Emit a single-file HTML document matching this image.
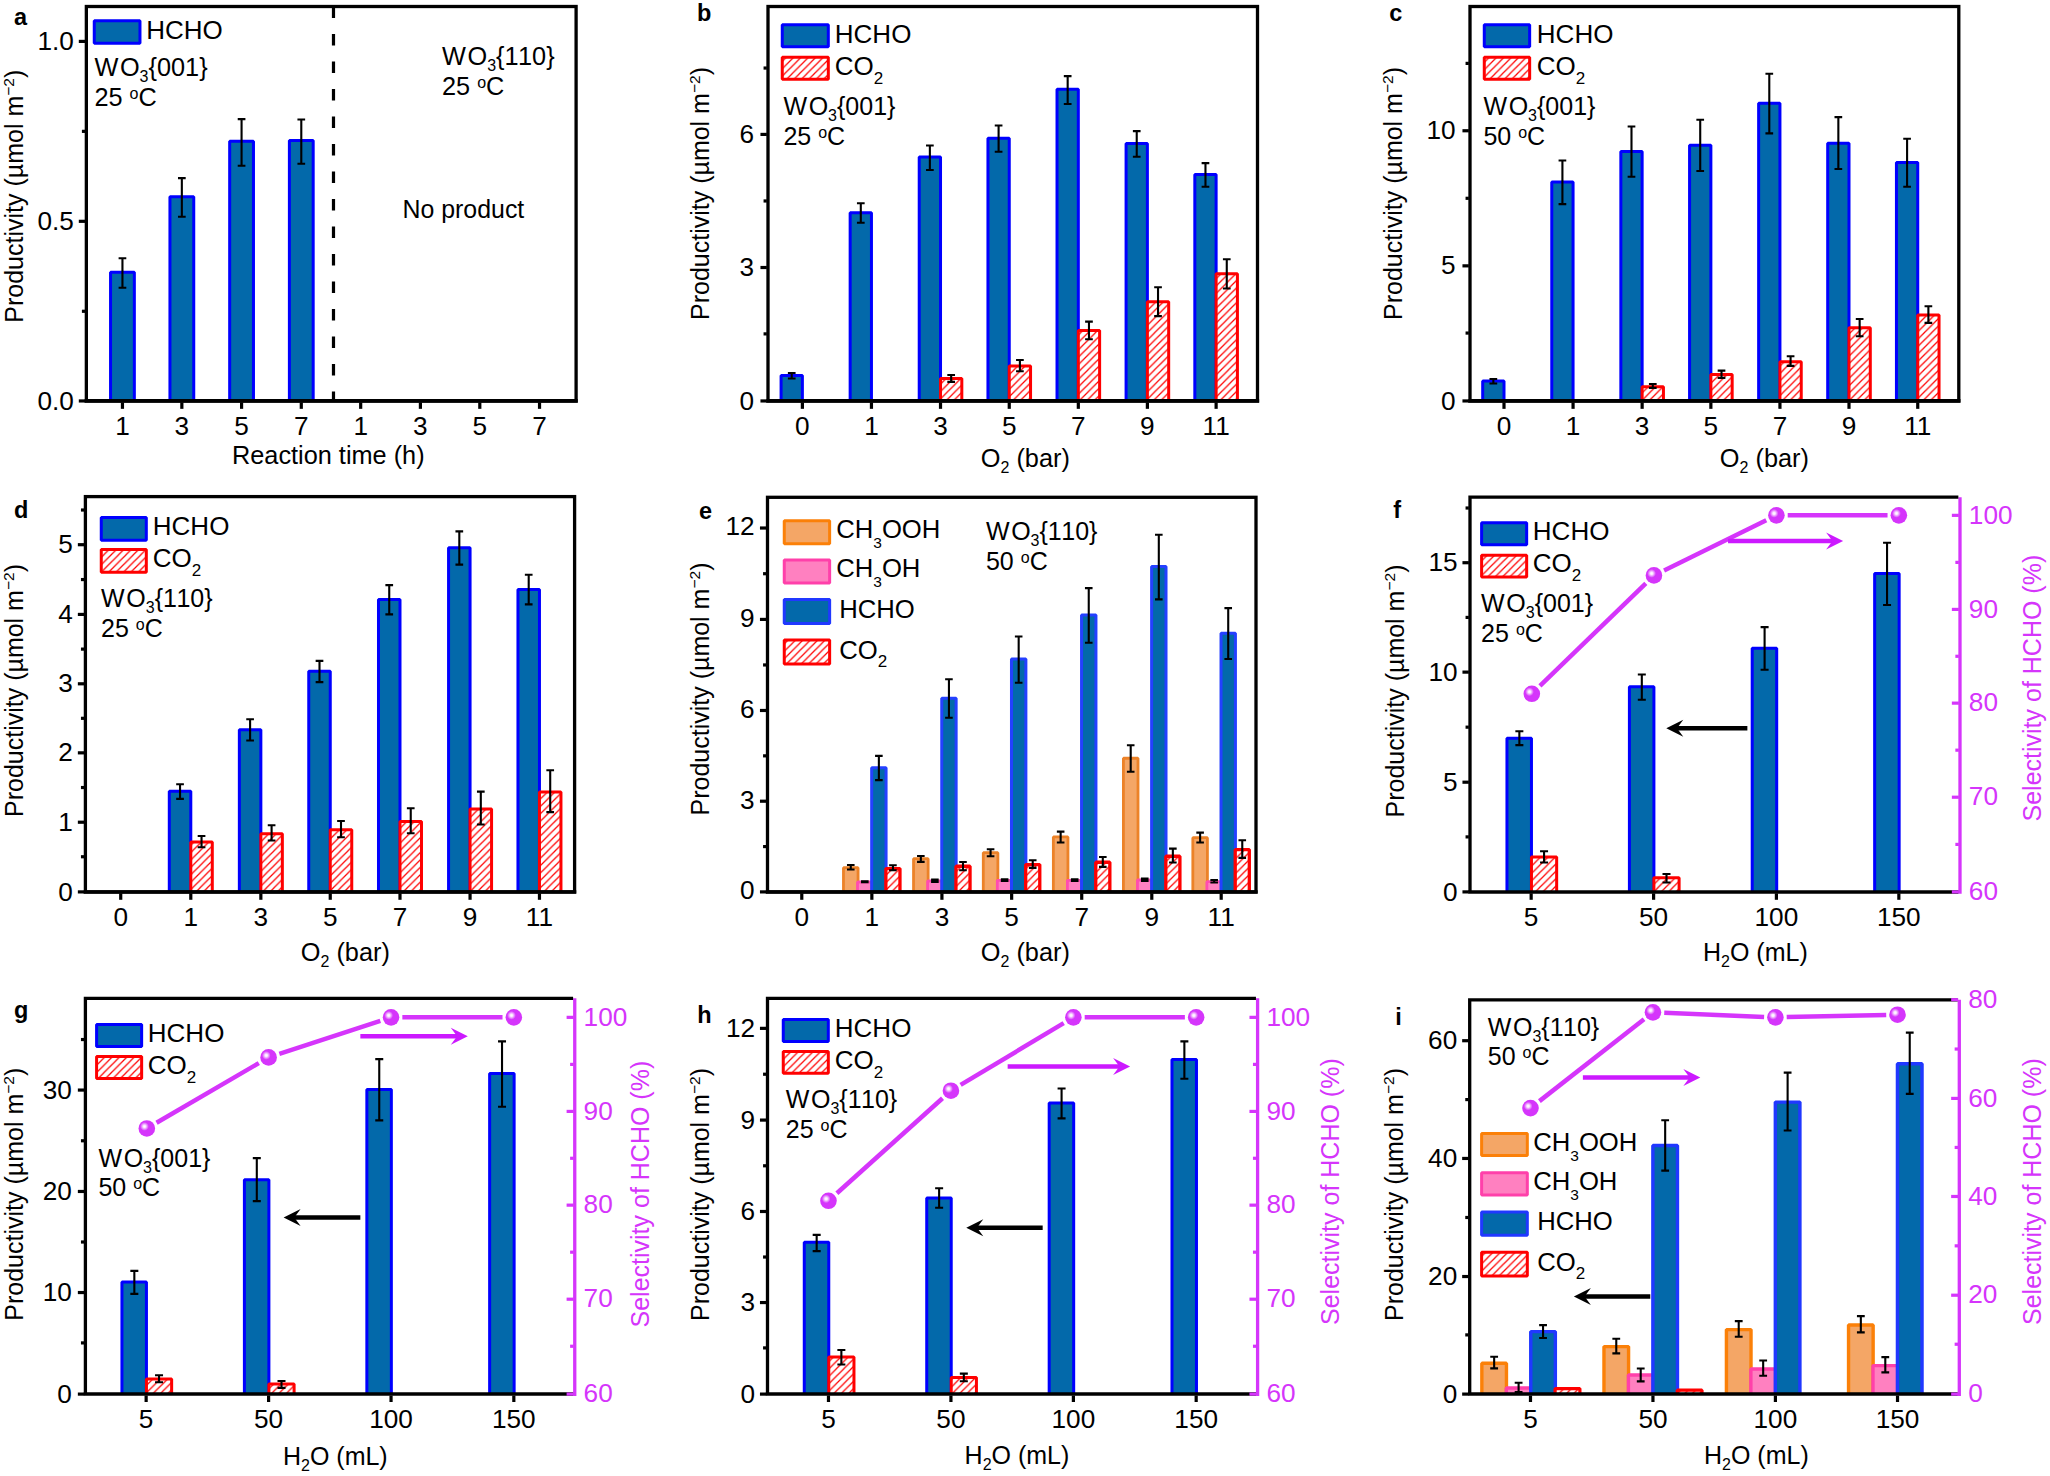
<!DOCTYPE html>
<html lang="en"><head><meta charset="utf-8"><title>Figure</title>
<style>html,body{margin:0;padding:0;background:#fff}svg{display:block}</style></head>
<body>
<svg width="2050" height="1476" viewBox="0 0 2050 1476" font-family='"Liberation Sans", sans-serif' fill="#000">
<defs><pattern id="hatch" width="7.4" height="7.4" patternUnits="userSpaceOnUse"><path d="M-1 8.4L8.4 -1M-1 1L1 -1M6.4 8.4L8.4 6.4" stroke="#FF0000" stroke-width="1.25" fill="none"/></pattern><radialGradient id="sph" cx="0.36" cy="0.38" r="0.62" fx="0.36" fy="0.38"><stop offset="0" stop-color="#fff"/><stop offset="0.12" stop-color="#fbeaff"/><stop offset="0.42" stop-color="#D535FB"/><stop offset="1" stop-color="#D535FB"/></radialGradient></defs>
<path d="M110.55 400.95V272.35H134.35V400.95" fill="#0369AA" stroke="#0000FF" stroke-width="3" stroke-linejoin="bevel"/>
<path d="M122.45 257.17V288.86M118.6 258.22H126.3M118.6 287.81H126.3" fill="none" stroke="#000" stroke-width="2.1"/>
<path d="M169.94 400.95V196.63H193.74V400.95" fill="#0369AA" stroke="#0000FF" stroke-width="3" stroke-linejoin="bevel"/>
<path d="M181.84 177.12V217.81M177.99 178.17H185.69M177.99 216.76H185.69" fill="none" stroke="#000" stroke-width="2.1"/>
<path d="M229.67 400.95V141.26H253.47V400.95" fill="#0369AA" stroke="#0000FF" stroke-width="3" stroke-linejoin="bevel"/>
<path d="M241.57 118.08V166.78M237.72 119.13H245.42M237.72 165.73H245.42" fill="none" stroke="#000" stroke-width="2.1"/>
<path d="M289.39 400.95V140.59H313.19V400.95" fill="#0369AA" stroke="#0000FF" stroke-width="3" stroke-linejoin="bevel"/>
<path d="M301.29 118.41V164.78M297.44 119.46H305.14M297.44 163.73H305.14" fill="none" stroke="#000" stroke-width="2.1"/>
<line x1="333.49" y1="6.5" x2="333.49" y2="400.95" stroke="#000" stroke-width="3.2" stroke-dasharray="11.5 16"/>
<rect x="86.35" y="6.5" width="489.75" height="394.45" fill="none" stroke="#000" stroke-width="3.3"/>
<line x1="84.7" y1="400.95" x2="577.75" y2="400.95" stroke="#000" stroke-width="3.8"/>
<line x1="78.8" y1="400.95" x2="85.2" y2="400.95" stroke="#000" stroke-width="3.2"/>
<line x1="78.8" y1="221.32" x2="85.2" y2="221.32" stroke="#000" stroke-width="3.2"/>
<line x1="78.8" y1="41.4" x2="85.2" y2="41.4" stroke="#000" stroke-width="3.2"/>
<line x1="81.9" y1="311.29" x2="85.2" y2="311.29" stroke="#000" stroke-width="3.2"/>
<line x1="81.9" y1="131.36" x2="85.2" y2="131.36" stroke="#000" stroke-width="3.2"/>
<text x="73.9" y="409.55" font-size="26.2" text-anchor="end">0.0</text>
<text x="73.9" y="229.92" font-size="26.2" text-anchor="end">0.5</text>
<text x="73.9" y="50" font-size="26.2" text-anchor="end">1.0</text>
<line x1="122.45" y1="402.35" x2="122.45" y2="408.85" stroke="#000" stroke-width="3.2"/>
<line x1="181.84" y1="402.35" x2="181.84" y2="408.85" stroke="#000" stroke-width="3.2"/>
<line x1="241.57" y1="402.35" x2="241.57" y2="408.85" stroke="#000" stroke-width="3.2"/>
<line x1="301.29" y1="402.35" x2="301.29" y2="408.85" stroke="#000" stroke-width="3.2"/>
<line x1="360.68" y1="402.35" x2="360.68" y2="408.85" stroke="#000" stroke-width="3.2"/>
<line x1="420.41" y1="402.35" x2="420.41" y2="408.85" stroke="#000" stroke-width="3.2"/>
<line x1="479.8" y1="402.35" x2="479.8" y2="408.85" stroke="#000" stroke-width="3.2"/>
<line x1="539.53" y1="402.35" x2="539.53" y2="408.85" stroke="#000" stroke-width="3.2"/>
<text x="122.45" y="434.65" font-size="26.2" text-anchor="middle">1</text>
<text x="181.84" y="434.65" font-size="26.2" text-anchor="middle">3</text>
<text x="241.57" y="434.65" font-size="26.2" text-anchor="middle">5</text>
<text x="301.29" y="434.65" font-size="26.2" text-anchor="middle">7</text>
<text x="360.68" y="434.65" font-size="26.2" text-anchor="middle">1</text>
<text x="420.41" y="434.65" font-size="26.2" text-anchor="middle">3</text>
<text x="479.8" y="434.65" font-size="26.2" text-anchor="middle">5</text>
<text x="539.53" y="434.65" font-size="26.2" text-anchor="middle">7</text>
<text x="328.32" y="463.5" font-size="25.3" text-anchor="middle">Reaction time (h)</text>
<text x="23.4" y="322.7" font-size="25" transform="rotate(-90 23.4 322.7)">Productivity (µmol m<tspan font-size="15.5" dy="-9">−2</tspan><tspan dy="9">)</tspan></text>
<text x="14" y="25" font-size="23.5" font-weight="bold">a</text>
<rect x="94.26" y="20.85" width="45.71" height="22.35" fill="#0369AA" stroke="#0000FF" stroke-width="3" stroke-linejoin="bevel"/>
<text x="146.14" y="38.69" font-size="26">HCHO</text>
<text x="94.43" y="76.39" font-size="25.3">W<tspan dx="1.6">O</tspan><tspan font-size="16" dy="6">3</tspan><tspan dy="-6">{001}</tspan></text>
<text x="94.43" y="106.41" font-size="25.3">25 <tspan font-size="16" dy="-7">o</tspan><tspan dy="7">C</tspan></text>
<text x="442" y="65" font-size="25.3">W<tspan dx="1.6">O</tspan><tspan font-size="16" dy="6">3</tspan><tspan dy="-6">{1<tspan dx="1.3">1</tspan>0}</tspan></text>
<text x="442" y="95" font-size="25.3">25 <tspan font-size="16" dy="-7">o</tspan><tspan dy="7">C</tspan></text>
<text x="402.5" y="217.5" font-size="24.9">No product</text>
<path d="M781.08 400.95V375.42H802.38V400.95" fill="#0369AA" stroke="#0000FF" stroke-width="3" stroke-linejoin="bevel"/>
<path d="M791.73 371.92V379.59M787.88 372.97H795.58M787.88 378.54H795.58" fill="none" stroke="#000" stroke-width="2.1"/>
<path d="M850.15 400.95V212.64H871.45V400.95" fill="#0369AA" stroke="#0000FF" stroke-width="3" stroke-linejoin="bevel"/>
<path d="M860.8 202.14V223.82M856.95 203.19H864.65M856.95 222.77H864.65" fill="none" stroke="#000" stroke-width="2.1"/>
<path d="M919.22 400.95V156.94H940.52V400.95" fill="#0369AA" stroke="#0000FF" stroke-width="3" stroke-linejoin="bevel"/>
<path d="M929.87 144.43V171.12M926.02 145.48H933.72M926.02 170.07H933.72" fill="none" stroke="#000" stroke-width="2.1"/>
<path d="M987.95 400.95V138.26H1009.25V400.95" fill="#0369AA" stroke="#0000FF" stroke-width="3" stroke-linejoin="bevel"/>
<path d="M998.6 124.42V152.77M994.75 125.47H1002.45M994.75 151.72H1002.45" fill="none" stroke="#000" stroke-width="2.1"/>
<path d="M1057.02 400.95V89.23H1078.32V400.95" fill="#0369AA" stroke="#0000FF" stroke-width="3" stroke-linejoin="bevel"/>
<path d="M1067.67 75.05V105.07M1063.82 76.1H1071.52M1063.82 104.02H1071.52" fill="none" stroke="#000" stroke-width="2.1"/>
<path d="M1126.08 400.95V143.6H1147.38V400.95" fill="#0369AA" stroke="#0000FF" stroke-width="3" stroke-linejoin="bevel"/>
<path d="M1136.73 130.09V157.77M1132.88 131.14H1140.58M1132.88 156.72H1140.58" fill="none" stroke="#000" stroke-width="2.1"/>
<path d="M1194.82 400.95V174.62H1216.12V400.95" fill="#0369AA" stroke="#0000FF" stroke-width="3" stroke-linejoin="bevel"/>
<path d="M1205.47 162.11V187.79M1201.62 163.16H1209.32M1201.62 186.74H1209.32" fill="none" stroke="#000" stroke-width="2.1"/>
<rect x="940.52" y="378.42" width="21.3" height="22.53" fill="#fff"/>
<path d="M940.52 400.95V378.42H961.82V400.95" fill="url(#hatch)" stroke="#FF0000" stroke-width="3" stroke-linejoin="bevel"/>
<path d="M951.17 373.92V382.93M947.32 374.97H955.02M947.32 381.88H955.02" fill="none" stroke="#000" stroke-width="2.1"/>
<rect x="1009.25" y="366.08" width="21.3" height="34.87" fill="#fff"/>
<path d="M1009.25 400.95V366.08H1030.55V400.95" fill="url(#hatch)" stroke="#FF0000" stroke-width="3" stroke-linejoin="bevel"/>
<path d="M1019.9 358.91V372.25M1016.05 359.96H1023.75M1016.05 371.2H1023.75" fill="none" stroke="#000" stroke-width="2.1"/>
<rect x="1078.32" y="330.39" width="21.3" height="70.56" fill="#fff"/>
<path d="M1078.32 400.95V330.39H1099.62V400.95" fill="url(#hatch)" stroke="#FF0000" stroke-width="3" stroke-linejoin="bevel"/>
<path d="M1088.97 320.55V340.23M1085.12 321.6H1092.82M1085.12 339.18H1092.82" fill="none" stroke="#000" stroke-width="2.1"/>
<rect x="1147.38" y="301.7" width="21.3" height="99.25" fill="#fff"/>
<path d="M1147.38 400.95V301.7H1168.68V400.95" fill="url(#hatch)" stroke="#FF0000" stroke-width="3" stroke-linejoin="bevel"/>
<path d="M1158.03 286.19V317.21M1154.18 287.24H1161.88M1154.18 316.16H1161.88" fill="none" stroke="#000" stroke-width="2.1"/>
<rect x="1216.12" y="273.68" width="21.3" height="127.27" fill="#fff"/>
<path d="M1216.12 400.95V273.68H1237.42V400.95" fill="url(#hatch)" stroke="#FF0000" stroke-width="3" stroke-linejoin="bevel"/>
<path d="M1226.77 258.17V289.53M1222.92 259.22H1230.62M1222.92 288.48H1230.62" fill="none" stroke="#000" stroke-width="2.1"/>
<rect x="768" y="6.5" width="489.5" height="394.45" fill="none" stroke="#000" stroke-width="3.3"/>
<line x1="766.35" y1="400.95" x2="1259.15" y2="400.95" stroke="#000" stroke-width="3.8"/>
<line x1="760.45" y1="400.95" x2="766.85" y2="400.95" stroke="#000" stroke-width="3.2"/>
<line x1="760.45" y1="267.51" x2="766.85" y2="267.51" stroke="#000" stroke-width="3.2"/>
<line x1="760.45" y1="134.42" x2="766.85" y2="134.42" stroke="#000" stroke-width="3.2"/>
<line x1="763.55" y1="333.89" x2="766.85" y2="333.89" stroke="#000" stroke-width="3.2"/>
<line x1="763.55" y1="200.97" x2="766.85" y2="200.97" stroke="#000" stroke-width="3.2"/>
<line x1="763.55" y1="68.05" x2="766.85" y2="68.05" stroke="#000" stroke-width="3.2"/>
<text x="754.05" y="409.55" font-size="26.2" text-anchor="end">0</text>
<text x="754.05" y="276.11" font-size="26.2" text-anchor="end">3</text>
<text x="754.05" y="143.02" font-size="26.2" text-anchor="end">6</text>
<line x1="802.38" y1="402.35" x2="802.38" y2="408.85" stroke="#000" stroke-width="3.2"/>
<line x1="871.45" y1="402.35" x2="871.45" y2="408.85" stroke="#000" stroke-width="3.2"/>
<line x1="940.52" y1="402.35" x2="940.52" y2="408.85" stroke="#000" stroke-width="3.2"/>
<line x1="1009.25" y1="402.35" x2="1009.25" y2="408.85" stroke="#000" stroke-width="3.2"/>
<line x1="1078.32" y1="402.35" x2="1078.32" y2="408.85" stroke="#000" stroke-width="3.2"/>
<line x1="1147.38" y1="402.35" x2="1147.38" y2="408.85" stroke="#000" stroke-width="3.2"/>
<line x1="1216.12" y1="402.35" x2="1216.12" y2="408.85" stroke="#000" stroke-width="3.2"/>
<text x="802.38" y="434.65" font-size="26.2" text-anchor="middle">0</text>
<text x="871.45" y="434.65" font-size="26.2" text-anchor="middle">1</text>
<text x="940.52" y="434.65" font-size="26.2" text-anchor="middle">3</text>
<text x="1009.25" y="434.65" font-size="26.2" text-anchor="middle">5</text>
<text x="1078.32" y="434.65" font-size="26.2" text-anchor="middle">7</text>
<text x="1147.38" y="434.65" font-size="26.2" text-anchor="middle">9</text>
<text x="1216.12" y="434.65" font-size="26.2" text-anchor="middle">11</text>
<text x="1025.33" y="466.9" font-size="25.3" text-anchor="middle">O<tspan font-size="16" dy="6">2</tspan><tspan dy="-6"> (bar)</tspan></text>
<text x="709" y="320" font-size="25" transform="rotate(-90 709 320)">Productivity (µmol m<tspan font-size="15.5" dy="-9">−2</tspan><tspan dy="9">)</tspan></text>
<text x="697.01" y="21.35" font-size="23.5" font-weight="bold">b</text>
<rect x="782.26" y="24.85" width="46.05" height="22.02" fill="#0369AA" stroke="#0000FF" stroke-width="3" stroke-linejoin="bevel"/>
<text x="834.81" y="42.7" font-size="26">HCHO</text>
<rect x="782.26" y="57.2" width="46.05" height="22.02" fill="url(#hatch)" stroke="#FF0000" stroke-width="3" stroke-linejoin="bevel"/>
<text x="834.81" y="75.05" font-size="26">CO<tspan font-size="17" dy="8.5">2</tspan><tspan dy="-8.5"></tspan></text>
<text x="783.43" y="115.08" font-size="25">W<tspan dx="1.6">O</tspan><tspan font-size="16" dy="6">3</tspan><tspan dy="-6">{001}</tspan></text>
<text x="783.43" y="145.1" font-size="25">25 <tspan font-size="16" dy="-7">o</tspan><tspan dy="7">C</tspan></text>
<path d="M1482.7 400.95V381.09H1504V400.95" fill="#0369AA" stroke="#0000FF" stroke-width="3" stroke-linejoin="bevel"/>
<path d="M1493.35 377.92V384.59M1489.5 378.97H1497.2M1489.5 383.54H1497.2" fill="none" stroke="#000" stroke-width="2.1"/>
<path d="M1551.77 400.95V181.96H1573.07V400.95" fill="#0369AA" stroke="#0000FF" stroke-width="3" stroke-linejoin="bevel"/>
<path d="M1562.42 159.44V205.14M1558.57 160.49H1566.27M1558.57 204.09H1566.27" fill="none" stroke="#000" stroke-width="2.1"/>
<path d="M1620.84 400.95V151.6H1642.14V400.95" fill="#0369AA" stroke="#0000FF" stroke-width="3" stroke-linejoin="bevel"/>
<path d="M1631.49 125.42V177.79M1627.64 126.47H1635.34M1627.64 176.74H1635.34" fill="none" stroke="#000" stroke-width="2.1"/>
<path d="M1689.57 400.95V145.26H1710.87V400.95" fill="#0369AA" stroke="#0000FF" stroke-width="3" stroke-linejoin="bevel"/>
<path d="M1700.22 118.75V172.12M1696.37 119.8H1704.07M1696.37 171.07H1704.07" fill="none" stroke="#000" stroke-width="2.1"/>
<path d="M1758.64 400.95V103.24H1779.94V400.95" fill="#0369AA" stroke="#0000FF" stroke-width="3" stroke-linejoin="bevel"/>
<path d="M1769.29 72.72V134.42M1765.44 73.77H1773.14M1765.44 133.37H1773.14" fill="none" stroke="#000" stroke-width="2.1"/>
<path d="M1827.7 400.95V143.26H1849V400.95" fill="#0369AA" stroke="#0000FF" stroke-width="3" stroke-linejoin="bevel"/>
<path d="M1838.35 116.08V170.12M1834.5 117.13H1842.2M1834.5 169.07H1842.2" fill="none" stroke="#000" stroke-width="2.1"/>
<path d="M1896.44 400.95V162.61H1917.74V400.95" fill="#0369AA" stroke="#0000FF" stroke-width="3" stroke-linejoin="bevel"/>
<path d="M1907.09 137.76V187.79M1903.24 138.81H1910.94M1903.24 186.74H1910.94" fill="none" stroke="#000" stroke-width="2.1"/>
<rect x="1642.14" y="386.76" width="21.3" height="14.19" fill="#fff"/>
<path d="M1642.14 400.95V386.76H1663.44V400.95" fill="url(#hatch)" stroke="#FF0000" stroke-width="3" stroke-linejoin="bevel"/>
<path d="M1652.79 382.93V388.93M1648.94 383.98H1656.64M1648.94 387.88H1656.64" fill="none" stroke="#000" stroke-width="2.1"/>
<rect x="1710.87" y="374.42" width="21.3" height="26.53" fill="#fff"/>
<path d="M1710.87 400.95V374.42H1732.17V400.95" fill="url(#hatch)" stroke="#FF0000" stroke-width="3" stroke-linejoin="bevel"/>
<path d="M1721.52 369.58V378.92M1717.67 370.63H1725.37M1717.67 377.87H1725.37" fill="none" stroke="#000" stroke-width="2.1"/>
<rect x="1779.94" y="361.74" width="21.3" height="39.21" fill="#fff"/>
<path d="M1779.94 400.95V361.74H1801.24V400.95" fill="url(#hatch)" stroke="#FF0000" stroke-width="3" stroke-linejoin="bevel"/>
<path d="M1790.59 355.24V366.92M1786.74 356.29H1794.44M1786.74 365.87H1794.44" fill="none" stroke="#000" stroke-width="2.1"/>
<rect x="1849" y="327.72" width="21.3" height="73.23" fill="#fff"/>
<path d="M1849 400.95V327.72H1870.3V400.95" fill="url(#hatch)" stroke="#FF0000" stroke-width="3" stroke-linejoin="bevel"/>
<path d="M1859.65 317.88V337.23M1855.8 318.93H1863.5M1855.8 336.18H1863.5" fill="none" stroke="#000" stroke-width="2.1"/>
<rect x="1917.74" y="315.05" width="21.3" height="85.9" fill="#fff"/>
<path d="M1917.74 400.95V315.05H1939.04V400.95" fill="url(#hatch)" stroke="#FF0000" stroke-width="3" stroke-linejoin="bevel"/>
<path d="M1928.39 305.21V323.89M1924.54 306.26H1932.24M1924.54 322.84H1932.24" fill="none" stroke="#000" stroke-width="2.1"/>
<rect x="1470" y="6.5" width="488.8" height="394.45" fill="none" stroke="#000" stroke-width="3.3"/>
<line x1="1468.35" y1="400.95" x2="1960.45" y2="400.95" stroke="#000" stroke-width="3.8"/>
<line x1="1462.45" y1="400.95" x2="1468.85" y2="400.95" stroke="#000" stroke-width="3.2"/>
<line x1="1462.45" y1="265.85" x2="1468.85" y2="265.85" stroke="#000" stroke-width="3.2"/>
<line x1="1462.45" y1="130.76" x2="1468.85" y2="130.76" stroke="#000" stroke-width="3.2"/>
<line x1="1465.55" y1="333.06" x2="1468.85" y2="333.06" stroke="#000" stroke-width="3.2"/>
<line x1="1465.55" y1="198.3" x2="1468.85" y2="198.3" stroke="#000" stroke-width="3.2"/>
<line x1="1465.55" y1="63.38" x2="1468.85" y2="63.38" stroke="#000" stroke-width="3.2"/>
<text x="1455.55" y="409.55" font-size="26.2" text-anchor="end">0</text>
<text x="1455.55" y="274.45" font-size="26.2" text-anchor="end">5</text>
<text x="1455.55" y="139.36" font-size="26.2" text-anchor="end">10</text>
<line x1="1504" y1="402.35" x2="1504" y2="408.85" stroke="#000" stroke-width="3.2"/>
<line x1="1573.07" y1="402.35" x2="1573.07" y2="408.85" stroke="#000" stroke-width="3.2"/>
<line x1="1642.14" y1="402.35" x2="1642.14" y2="408.85" stroke="#000" stroke-width="3.2"/>
<line x1="1710.87" y1="402.35" x2="1710.87" y2="408.85" stroke="#000" stroke-width="3.2"/>
<line x1="1779.94" y1="402.35" x2="1779.94" y2="408.85" stroke="#000" stroke-width="3.2"/>
<line x1="1849" y1="402.35" x2="1849" y2="408.85" stroke="#000" stroke-width="3.2"/>
<line x1="1917.74" y1="402.35" x2="1917.74" y2="408.85" stroke="#000" stroke-width="3.2"/>
<text x="1504" y="434.65" font-size="26.2" text-anchor="middle">0</text>
<text x="1573.07" y="434.65" font-size="26.2" text-anchor="middle">1</text>
<text x="1642.14" y="434.65" font-size="26.2" text-anchor="middle">3</text>
<text x="1710.87" y="434.65" font-size="26.2" text-anchor="middle">5</text>
<text x="1779.94" y="434.65" font-size="26.2" text-anchor="middle">7</text>
<text x="1849" y="434.65" font-size="26.2" text-anchor="middle">9</text>
<text x="1917.74" y="434.65" font-size="26.2" text-anchor="middle">11</text>
<text x="1764.39" y="466.9" font-size="25.3" text-anchor="middle">O<tspan font-size="16" dy="6">2</tspan><tspan dy="-6"> (bar)</tspan></text>
<text x="1402" y="320" font-size="25" transform="rotate(-90 1402 320)">Productivity (µmol m<tspan font-size="15.5" dy="-9">−2</tspan><tspan dy="9">)</tspan></text>
<text x="1389.36" y="21.35" font-size="23.5" font-weight="bold">c</text>
<rect x="1484.28" y="24.85" width="45.38" height="22.02" fill="#0369AA" stroke="#0000FF" stroke-width="3" stroke-linejoin="bevel"/>
<text x="1536.83" y="42.7" font-size="26">HCHO</text>
<rect x="1484.28" y="57.2" width="45.38" height="22.02" fill="url(#hatch)" stroke="#FF0000" stroke-width="3" stroke-linejoin="bevel"/>
<text x="1536.83" y="75.05" font-size="26">CO<tspan font-size="17" dy="8.5">2</tspan><tspan dy="-8.5"></tspan></text>
<text x="1483.45" y="115.08" font-size="25">W<tspan dx="1.6">O</tspan><tspan font-size="16" dy="6">3</tspan><tspan dy="-6">{001}</tspan></text>
<text x="1483.45" y="145.1" font-size="25">50 <tspan font-size="16" dy="-7">o</tspan><tspan dy="7">C</tspan></text>
<path d="M169.29 891.9V791.37H190.79V891.9" fill="#0369AA" stroke="#0000FF" stroke-width="3" stroke-linejoin="bevel"/>
<path d="M180.04 783.2V799.88M176.19 784.25H183.89M176.19 798.83H183.89" fill="none" stroke="#000" stroke-width="2.1"/>
<path d="M239.35 891.9V729.66H260.85V891.9" fill="#0369AA" stroke="#0000FF" stroke-width="3" stroke-linejoin="bevel"/>
<path d="M250.1 718.15V741.5M246.25 719.2H253.95M246.25 740.45H253.95" fill="none" stroke="#000" stroke-width="2.1"/>
<path d="M308.75 891.9V671.29H330.25V891.9" fill="#0369AA" stroke="#0000FF" stroke-width="3" stroke-linejoin="bevel"/>
<path d="M319.5 659.78V683.13M315.65 660.83H323.35M315.65 682.08H323.35" fill="none" stroke="#000" stroke-width="2.1"/>
<path d="M378.49 891.9V599.57H399.99V891.9" fill="#0369AA" stroke="#0000FF" stroke-width="3" stroke-linejoin="bevel"/>
<path d="M389.24 584.06V615.42M385.39 585.11H393.09M385.39 614.37H393.09" fill="none" stroke="#000" stroke-width="2.1"/>
<path d="M448.56 891.9V547.87H470.06V891.9" fill="#0369AA" stroke="#0000FF" stroke-width="3" stroke-linejoin="bevel"/>
<path d="M459.31 530.36V565.72M455.46 531.41H463.16M455.46 564.67H463.16" fill="none" stroke="#000" stroke-width="2.1"/>
<path d="M517.96 891.9V589.57H539.46V891.9" fill="#0369AA" stroke="#0000FF" stroke-width="3" stroke-linejoin="bevel"/>
<path d="M528.71 573.72V605.41M524.86 574.77H532.56M524.86 604.36H532.56" fill="none" stroke="#000" stroke-width="2.1"/>
<rect x="190.79" y="842.07" width="21.5" height="49.83" fill="#fff"/>
<path d="M190.79 891.9V842.07H212.29V891.9" fill="url(#hatch)" stroke="#FF0000" stroke-width="3" stroke-linejoin="bevel"/>
<path d="M201.54 834.9V848.24M197.69 835.95H205.39M197.69 847.19H205.39" fill="none" stroke="#000" stroke-width="2.1"/>
<rect x="260.85" y="833.73" width="21.5" height="58.17" fill="#fff"/>
<path d="M260.85 891.9V833.73H282.35V891.9" fill="url(#hatch)" stroke="#FF0000" stroke-width="3" stroke-linejoin="bevel"/>
<path d="M271.6 824.23V841.57M267.75 825.28H275.45M267.75 840.52H275.45" fill="none" stroke="#000" stroke-width="2.1"/>
<rect x="330.25" y="829.73" width="21.5" height="62.17" fill="#fff"/>
<path d="M330.25 891.9V829.73H351.75V891.9" fill="url(#hatch)" stroke="#FF0000" stroke-width="3" stroke-linejoin="bevel"/>
<path d="M341 819.89V838.23M337.15 820.94H344.85M337.15 837.18H344.85" fill="none" stroke="#000" stroke-width="2.1"/>
<rect x="399.99" y="821.39" width="21.5" height="70.51" fill="#fff"/>
<path d="M399.99 891.9V821.39H421.49V891.9" fill="url(#hatch)" stroke="#FF0000" stroke-width="3" stroke-linejoin="bevel"/>
<path d="M410.74 807.21V834.23M406.89 808.26H414.59M406.89 833.18H414.59" fill="none" stroke="#000" stroke-width="2.1"/>
<rect x="470.06" y="809.05" width="21.5" height="82.85" fill="#fff"/>
<path d="M470.06 891.9V809.05H491.56V891.9" fill="url(#hatch)" stroke="#FF0000" stroke-width="3" stroke-linejoin="bevel"/>
<path d="M480.81 790.54V825.56M476.96 791.59H484.66M476.96 824.51H484.66" fill="none" stroke="#000" stroke-width="2.1"/>
<rect x="539.46" y="792.04" width="21.5" height="99.86" fill="#fff"/>
<path d="M539.46 891.9V792.04H560.96V891.9" fill="url(#hatch)" stroke="#FF0000" stroke-width="3" stroke-linejoin="bevel"/>
<path d="M550.21 769.19V813.22M546.36 770.24H554.06M546.36 812.17H554.06" fill="none" stroke="#000" stroke-width="2.1"/>
<rect x="85.4" y="496.6" width="489.2" height="395.3" fill="none" stroke="#000" stroke-width="3.3"/>
<line x1="83.75" y1="891.9" x2="576.25" y2="891.9" stroke="#000" stroke-width="3.5"/>
<line x1="77.85" y1="891.9" x2="84.25" y2="891.9" stroke="#000" stroke-width="3.2"/>
<line x1="77.85" y1="822.22" x2="84.25" y2="822.22" stroke="#000" stroke-width="3.2"/>
<line x1="77.85" y1="752.84" x2="84.25" y2="752.84" stroke="#000" stroke-width="3.2"/>
<line x1="77.85" y1="683.8" x2="84.25" y2="683.8" stroke="#000" stroke-width="3.2"/>
<line x1="77.85" y1="614.42" x2="84.25" y2="614.42" stroke="#000" stroke-width="3.2"/>
<line x1="77.85" y1="544.7" x2="84.25" y2="544.7" stroke="#000" stroke-width="3.2"/>
<line x1="80.95" y1="856.75" x2="84.25" y2="856.75" stroke="#000" stroke-width="3.2"/>
<line x1="80.95" y1="787.53" x2="84.25" y2="787.53" stroke="#000" stroke-width="3.2"/>
<line x1="80.95" y1="718.32" x2="84.25" y2="718.32" stroke="#000" stroke-width="3.2"/>
<line x1="80.95" y1="649.11" x2="84.25" y2="649.11" stroke="#000" stroke-width="3.2"/>
<line x1="80.95" y1="579.56" x2="84.25" y2="579.56" stroke="#000" stroke-width="3.2"/>
<line x1="80.95" y1="510.01" x2="84.25" y2="510.01" stroke="#000" stroke-width="3.2"/>
<text x="72.95" y="900.5" font-size="26.2" text-anchor="end">0</text>
<text x="72.95" y="830.82" font-size="26.2" text-anchor="end">1</text>
<text x="72.95" y="761.44" font-size="26.2" text-anchor="end">2</text>
<text x="72.95" y="692.4" font-size="26.2" text-anchor="end">3</text>
<text x="72.95" y="623.02" font-size="26.2" text-anchor="end">4</text>
<text x="72.95" y="553.3" font-size="26.2" text-anchor="end">5</text>
<line x1="120.72" y1="893.3" x2="120.72" y2="899.8" stroke="#000" stroke-width="3.2"/>
<line x1="190.79" y1="893.3" x2="190.79" y2="899.8" stroke="#000" stroke-width="3.2"/>
<line x1="260.85" y1="893.3" x2="260.85" y2="899.8" stroke="#000" stroke-width="3.2"/>
<line x1="330.25" y1="893.3" x2="330.25" y2="899.8" stroke="#000" stroke-width="3.2"/>
<line x1="399.99" y1="893.3" x2="399.99" y2="899.8" stroke="#000" stroke-width="3.2"/>
<line x1="470.06" y1="893.3" x2="470.06" y2="899.8" stroke="#000" stroke-width="3.2"/>
<line x1="539.46" y1="893.3" x2="539.46" y2="899.8" stroke="#000" stroke-width="3.2"/>
<text x="120.72" y="925.6" font-size="26.2" text-anchor="middle">0</text>
<text x="190.79" y="925.6" font-size="26.2" text-anchor="middle">1</text>
<text x="260.85" y="925.6" font-size="26.2" text-anchor="middle">3</text>
<text x="330.25" y="925.6" font-size="26.2" text-anchor="middle">5</text>
<text x="399.99" y="925.6" font-size="26.2" text-anchor="middle">7</text>
<text x="470.06" y="925.6" font-size="26.2" text-anchor="middle">9</text>
<text x="539.46" y="925.6" font-size="26.2" text-anchor="middle">11</text>
<text x="345.34" y="961.2" font-size="25.3" text-anchor="middle">O<tspan font-size="16" dy="6">2</tspan><tspan dy="-6"> (bar)</tspan></text>
<text x="23.4" y="817" font-size="25" transform="rotate(-90 23.4 817)">Productivity (µmol m<tspan font-size="15.5" dy="-9">−2</tspan><tspan dy="9">)</tspan></text>
<text x="14.01" y="517.68" font-size="23.5" font-weight="bold">d</text>
<rect x="101.26" y="517.52" width="45.05" height="22.68" fill="#0369AA" stroke="#0000FF" stroke-width="3" stroke-linejoin="bevel"/>
<text x="152.82" y="535.36" font-size="26">HCHO</text>
<rect x="101.26" y="549.54" width="45.05" height="22.68" fill="url(#hatch)" stroke="#FF0000" stroke-width="3" stroke-linejoin="bevel"/>
<text x="152.82" y="567.05" font-size="26">CO<tspan font-size="17" dy="8.5">2</tspan><tspan dy="-8.5"></tspan></text>
<text x="101.1" y="607.08" font-size="25">W<tspan dx="1.6">O</tspan><tspan font-size="16" dy="6">3</tspan><tspan dy="-6">{1<tspan dx="1.3">1</tspan>0}</tspan></text>
<text x="101.1" y="637.1" font-size="25">25 <tspan font-size="16" dy="-7">o</tspan><tspan dy="7">C</tspan></text>
<path d="M843.47 891.9V867.65H858.07V891.9" fill="#F4A666" stroke="#EC8228" stroke-width="2.8" stroke-linejoin="bevel"/>
<path d="M857.52 891.9V882H872.12V891.9" fill="#FF80C0" stroke="#FF4CB0" stroke-width="2.8" stroke-linejoin="bevel"/>
<path d="M871.67 891.9V767.69H886.07V891.9" fill="#0369AA" stroke="#2440FF" stroke-width="3" stroke-linejoin="bevel"/>
<rect x="885.87" y="868.57" width="14.1" height="23.33" fill="#fff"/>
<path d="M885.87 891.9V868.57H899.97V891.9" fill="url(#hatch)" stroke="#FF0000" stroke-width="3.3" stroke-linejoin="bevel"/>
<path d="M850.77 863.92V870.59M846.97 864.97H854.57M846.97 869.54H854.57" fill="none" stroke="#000" stroke-width="2.1"/>
<path d="M864.82 880.26V883.27M861.02 881.31H868.62M861.02 882.22H868.62" fill="none" stroke="#000" stroke-width="2.1"/>
<path d="M878.87 754.84V781.2M875.07 755.89H882.67M875.07 780.15H882.67" fill="none" stroke="#000" stroke-width="2.1"/>
<path d="M892.92 864.25V871.26M889.12 865.3H896.72M889.12 870.21H896.72" fill="none" stroke="#000" stroke-width="2.1"/>
<path d="M913.54 891.9V858.65H928.14V891.9" fill="#F4A666" stroke="#EC8228" stroke-width="2.8" stroke-linejoin="bevel"/>
<path d="M927.59 891.9V881H942.19V891.9" fill="#FF80C0" stroke="#FF4CB0" stroke-width="2.8" stroke-linejoin="bevel"/>
<path d="M941.74 891.9V698.31H956.14V891.9" fill="#0369AA" stroke="#2440FF" stroke-width="3" stroke-linejoin="bevel"/>
<rect x="955.94" y="866.24" width="14.1" height="25.66" fill="#fff"/>
<path d="M955.94 891.9V866.24H970.04V891.9" fill="url(#hatch)" stroke="#FF0000" stroke-width="3.3" stroke-linejoin="bevel"/>
<path d="M920.84 854.91V862.92M917.04 855.96H924.64M917.04 861.87H924.64" fill="none" stroke="#000" stroke-width="2.1"/>
<path d="M934.89 878.6V882.93M931.09 879.65H938.69M931.09 881.88H938.69" fill="none" stroke="#000" stroke-width="2.1"/>
<path d="M948.94 678.13V718.82M945.14 679.18H952.74M945.14 717.77H952.74" fill="none" stroke="#000" stroke-width="2.1"/>
<path d="M962.99 860.92V871.26M959.19 861.97H966.79M959.19 870.21H966.79" fill="none" stroke="#000" stroke-width="2.1"/>
<path d="M983.28 891.9V852.64H997.88V891.9" fill="#F4A666" stroke="#EC8228" stroke-width="2.8" stroke-linejoin="bevel"/>
<path d="M997.33 891.9V880.33H1011.93V891.9" fill="#FF80C0" stroke="#FF4CB0" stroke-width="2.8" stroke-linejoin="bevel"/>
<path d="M1011.48 891.9V658.95H1025.88V891.9" fill="#0369AA" stroke="#2440FF" stroke-width="3" stroke-linejoin="bevel"/>
<rect x="1025.68" y="864.57" width="14.1" height="27.33" fill="#fff"/>
<path d="M1025.68 891.9V864.57H1039.78V891.9" fill="url(#hatch)" stroke="#FF0000" stroke-width="3.3" stroke-linejoin="bevel"/>
<path d="M990.58 848.24V857.25M986.78 849.29H994.38M986.78 856.2H994.38" fill="none" stroke="#000" stroke-width="2.1"/>
<path d="M1004.63 878.26V881.93M1000.83 879.31H1008.43M1000.83 880.88H1008.43" fill="none" stroke="#000" stroke-width="2.1"/>
<path d="M1018.68 635.43V683.8M1014.88 636.48H1022.48M1014.88 682.75H1022.48" fill="none" stroke="#000" stroke-width="2.1"/>
<path d="M1032.73 859.25V868.92M1028.93 860.3H1036.53M1028.93 867.87H1036.53" fill="none" stroke="#000" stroke-width="2.1"/>
<path d="M1053.35 891.9V836.97H1067.95V891.9" fill="#F4A666" stroke="#EC8228" stroke-width="2.8" stroke-linejoin="bevel"/>
<path d="M1067.4 891.9V880.33H1082V891.9" fill="#FF80C0" stroke="#FF4CB0" stroke-width="2.8" stroke-linejoin="bevel"/>
<path d="M1081.55 891.9V614.92H1095.95V891.9" fill="#0369AA" stroke="#2440FF" stroke-width="3" stroke-linejoin="bevel"/>
<rect x="1095.75" y="862.23" width="14.1" height="29.67" fill="#fff"/>
<path d="M1095.75 891.9V862.23H1109.85V891.9" fill="url(#hatch)" stroke="#FF0000" stroke-width="3.3" stroke-linejoin="bevel"/>
<path d="M1060.65 830.56V843.57M1056.85 831.61H1064.45M1056.85 842.52H1064.45" fill="none" stroke="#000" stroke-width="2.1"/>
<path d="M1074.7 878.26V881.93M1070.9 879.31H1078.5M1070.9 880.88H1078.5" fill="none" stroke="#000" stroke-width="2.1"/>
<path d="M1088.75 587.06V643.77M1084.95 588.11H1092.55M1084.95 642.72H1092.55" fill="none" stroke="#000" stroke-width="2.1"/>
<path d="M1102.8 855.91V867.92M1099 856.96H1106.6M1099 866.87H1106.6" fill="none" stroke="#000" stroke-width="2.1"/>
<path d="M1123.41 891.9V758.25H1138.01V891.9" fill="#F4A666" stroke="#EC8228" stroke-width="2.8" stroke-linejoin="bevel"/>
<path d="M1137.46 891.9V880H1152.06V891.9" fill="#FF80C0" stroke="#FF4CB0" stroke-width="2.8" stroke-linejoin="bevel"/>
<path d="M1151.61 891.9V566.55H1166.01V891.9" fill="#0369AA" stroke="#2440FF" stroke-width="3" stroke-linejoin="bevel"/>
<rect x="1165.81" y="856.23" width="14.1" height="35.67" fill="#fff"/>
<path d="M1165.81 891.9V856.23H1179.91V891.9" fill="url(#hatch)" stroke="#FF0000" stroke-width="3.3" stroke-linejoin="bevel"/>
<path d="M1130.71 744.17V772.86M1126.91 745.22H1134.51M1126.91 771.81H1134.51" fill="none" stroke="#000" stroke-width="2.1"/>
<path d="M1144.76 877.59V881.93M1140.96 878.64H1148.56M1140.96 880.88H1148.56" fill="none" stroke="#000" stroke-width="2.1"/>
<path d="M1158.81 533.69V600.41M1155.01 534.74H1162.61M1155.01 599.36H1162.61" fill="none" stroke="#000" stroke-width="2.1"/>
<path d="M1172.86 847.57V863.59M1169.06 848.62H1176.66M1169.06 862.54H1176.66" fill="none" stroke="#000" stroke-width="2.1"/>
<path d="M1192.82 891.9V837.63H1207.42V891.9" fill="#F4A666" stroke="#EC8228" stroke-width="2.8" stroke-linejoin="bevel"/>
<path d="M1206.87 891.9V881.66H1221.47V891.9" fill="#FF80C0" stroke="#FF4CB0" stroke-width="2.8" stroke-linejoin="bevel"/>
<path d="M1221.02 891.9V633.26H1235.42V891.9" fill="#0369AA" stroke="#2440FF" stroke-width="3" stroke-linejoin="bevel"/>
<rect x="1235.22" y="849.56" width="14.1" height="42.34" fill="#fff"/>
<path d="M1235.22 891.9V849.56H1249.32V891.9" fill="url(#hatch)" stroke="#FF0000" stroke-width="3.3" stroke-linejoin="bevel"/>
<path d="M1200.12 831.56V843.57M1196.32 832.61H1203.92M1196.32 842.52H1203.92" fill="none" stroke="#000" stroke-width="2.1"/>
<path d="M1214.17 878.93V883.6M1210.37 879.98H1217.97M1210.37 882.55H1217.97" fill="none" stroke="#000" stroke-width="2.1"/>
<path d="M1228.22 607.08V660.11M1224.42 608.13H1232.02M1224.42 659.06H1232.02" fill="none" stroke="#000" stroke-width="2.1"/>
<path d="M1242.27 839.24V858.92M1238.47 840.29H1246.07M1238.47 857.87H1246.07" fill="none" stroke="#000" stroke-width="2.1"/>
<rect x="767.5" y="497.3" width="488.5" height="394.6" fill="none" stroke="#000" stroke-width="3.3"/>
<line x1="765.85" y1="891.9" x2="1257.65" y2="891.9" stroke="#000" stroke-width="3.5"/>
<line x1="759.95" y1="891.9" x2="766.35" y2="891.9" stroke="#000" stroke-width="3.2"/>
<line x1="759.95" y1="801.21" x2="766.35" y2="801.21" stroke="#000" stroke-width="3.2"/>
<line x1="759.95" y1="710.48" x2="766.35" y2="710.48" stroke="#000" stroke-width="3.2"/>
<line x1="759.95" y1="619.42" x2="766.35" y2="619.42" stroke="#000" stroke-width="3.2"/>
<line x1="759.95" y1="528.02" x2="766.35" y2="528.02" stroke="#000" stroke-width="3.2"/>
<line x1="763.05" y1="846.57" x2="766.35" y2="846.57" stroke="#000" stroke-width="3.2"/>
<line x1="763.05" y1="755.85" x2="766.35" y2="755.85" stroke="#000" stroke-width="3.2"/>
<line x1="763.05" y1="664.95" x2="766.35" y2="664.95" stroke="#000" stroke-width="3.2"/>
<line x1="763.05" y1="573.72" x2="766.35" y2="573.72" stroke="#000" stroke-width="3.2"/>
<text x="754.55" y="899.2" font-size="26.2" text-anchor="end">0</text>
<text x="754.55" y="808.51" font-size="26.2" text-anchor="end">3</text>
<text x="754.55" y="717.78" font-size="26.2" text-anchor="end">6</text>
<text x="754.55" y="626.72" font-size="26.2" text-anchor="end">9</text>
<text x="754.55" y="535.32" font-size="26.2" text-anchor="end">12</text>
<line x1="801.78" y1="893.3" x2="801.78" y2="899.8" stroke="#000" stroke-width="3.2"/>
<line x1="871.85" y1="893.3" x2="871.85" y2="899.8" stroke="#000" stroke-width="3.2"/>
<line x1="941.92" y1="893.3" x2="941.92" y2="899.8" stroke="#000" stroke-width="3.2"/>
<line x1="1011.65" y1="893.3" x2="1011.65" y2="899.8" stroke="#000" stroke-width="3.2"/>
<line x1="1081.72" y1="893.3" x2="1081.72" y2="899.8" stroke="#000" stroke-width="3.2"/>
<line x1="1151.79" y1="893.3" x2="1151.79" y2="899.8" stroke="#000" stroke-width="3.2"/>
<line x1="1221.19" y1="893.3" x2="1221.19" y2="899.8" stroke="#000" stroke-width="3.2"/>
<text x="801.78" y="925.6" font-size="26.2" text-anchor="middle">0</text>
<text x="871.85" y="925.6" font-size="26.2" text-anchor="middle">1</text>
<text x="941.92" y="925.6" font-size="26.2" text-anchor="middle">3</text>
<text x="1011.65" y="925.6" font-size="26.2" text-anchor="middle">5</text>
<text x="1081.72" y="925.6" font-size="26.2" text-anchor="middle">7</text>
<text x="1151.79" y="925.6" font-size="26.2" text-anchor="middle">9</text>
<text x="1221.19" y="925.6" font-size="26.2" text-anchor="middle">11</text>
<text x="1025.33" y="961.2" font-size="25.3" text-anchor="middle">O<tspan font-size="16" dy="6">2</tspan><tspan dy="-6"> (bar)</tspan></text>
<text x="709" y="815.5" font-size="25" transform="rotate(-90 709 815.5)">Productivity (µmol m<tspan font-size="15.5" dy="-9">−2</tspan><tspan dy="9">)</tspan></text>
<text x="699.01" y="519.02" font-size="23.5" font-weight="bold">e</text>
<rect x="784.26" y="520.85" width="45.38" height="22.85" fill="#F4A666" stroke="#FB8008" stroke-width="3" stroke-linejoin="bevel"/>
<text x="836.15" y="538.36" font-size="25.7">CH<tspan font-size="15.5" dy="10">3</tspan><tspan dy="-10">OOH</tspan></text>
<rect x="784.26" y="560.05" width="45.38" height="22.85" fill="#FF80C0" stroke="#FF40AA" stroke-width="3" stroke-linejoin="bevel"/>
<text x="836.15" y="577.39" font-size="25.7">CH<tspan font-size="15.5" dy="10">3</tspan><tspan dy="-10">OH</tspan></text>
<rect x="784.26" y="599.57" width="45.38" height="24.02" fill="#0369AA" stroke="#2038FF" stroke-width="3" stroke-linejoin="bevel"/>
<text x="839.15" y="618.09" font-size="25.7">HCHO</text>
<rect x="784.26" y="640.1" width="45.38" height="24.02" fill="url(#hatch)" stroke="#FF0000" stroke-width="3" stroke-linejoin="bevel"/>
<text x="839.15" y="658.78" font-size="25.7">CO<tspan font-size="17" dy="8.5">2</tspan><tspan dy="-8.5"></tspan></text>
<text x="985.96" y="540.37" font-size="25">W<tspan dx="1.6">O</tspan><tspan font-size="16" dy="6">3</tspan><tspan dy="-6">{1<tspan dx="1.3">1</tspan>0}</tspan></text>
<text x="985.96" y="569.72" font-size="25">50 <tspan font-size="16" dy="-7">o</tspan><tspan dy="7">C</tspan></text>
<path d="M1506.96 891.9V738.33H1531.46V891.9" fill="#0369AA" stroke="#0000FF" stroke-width="3" stroke-linejoin="bevel"/>
<path d="M1519.36 730.16V746.17M1515.36 731.21H1523.36M1515.36 745.12H1523.36" fill="none" stroke="#000" stroke-width="2.1"/>
<path d="M1629.41 891.9V686.63H1653.91V891.9" fill="#0369AA" stroke="#0000FF" stroke-width="3" stroke-linejoin="bevel"/>
<path d="M1641.81 673.46V700.81M1637.81 674.51H1645.81M1637.81 699.76H1645.81" fill="none" stroke="#000" stroke-width="2.1"/>
<path d="M1752.2 891.9V648.27H1776.7V891.9" fill="#0369AA" stroke="#0000FF" stroke-width="3" stroke-linejoin="bevel"/>
<path d="M1764.6 626.09V670.79M1760.6 627.14H1768.6M1760.6 669.74H1768.6" fill="none" stroke="#000" stroke-width="2.1"/>
<path d="M1874.65 891.9V573.55H1899.15V891.9" fill="#0369AA" stroke="#0000FF" stroke-width="3" stroke-linejoin="bevel"/>
<path d="M1887.05 541.7V606.08M1883.05 542.75H1891.05M1883.05 605.03H1891.05" fill="none" stroke="#000" stroke-width="2.1"/>
<rect x="1531.46" y="857.08" width="25.2" height="34.82" fill="#fff"/>
<path d="M1531.46 891.9V857.08H1556.66V891.9" fill="url(#hatch)" stroke="#FF0000" stroke-width="3" stroke-linejoin="bevel"/>
<path d="M1544.06 850.24V863.59M1540.06 851.29H1548.06M1540.06 862.54H1548.06" fill="none" stroke="#000" stroke-width="2.1"/>
<rect x="1653.91" y="877.76" width="25.2" height="14.14" fill="#fff"/>
<path d="M1653.91 891.9V877.76H1679.11V891.9" fill="url(#hatch)" stroke="#FF0000" stroke-width="3" stroke-linejoin="bevel"/>
<path d="M1666.51 872.92V883.6M1662.51 873.97H1670.51M1662.51 882.55H1670.51" fill="none" stroke="#000" stroke-width="2.1"/>
<line x1="1960" y1="497.2" x2="1960" y2="893.8" stroke="#D535FB" stroke-width="3.3"/>
<path d="M1958.35 497.2H1470V891.9" fill="none" stroke="#000" stroke-width="3.3"/>
<line x1="1468.35" y1="891.9" x2="1958.35" y2="891.9" stroke="#000" stroke-width="3.5"/>
<line x1="1462.45" y1="891.9" x2="1468.85" y2="891.9" stroke="#000" stroke-width="3.2"/>
<line x1="1462.45" y1="782.2" x2="1468.85" y2="782.2" stroke="#000" stroke-width="3.2"/>
<line x1="1462.45" y1="672.12" x2="1468.85" y2="672.12" stroke="#000" stroke-width="3.2"/>
<line x1="1462.45" y1="562.71" x2="1468.85" y2="562.71" stroke="#000" stroke-width="3.2"/>
<line x1="1465.55" y1="836.9" x2="1468.85" y2="836.9" stroke="#000" stroke-width="3.2"/>
<line x1="1465.55" y1="727.16" x2="1468.85" y2="727.16" stroke="#000" stroke-width="3.2"/>
<line x1="1465.55" y1="617.42" x2="1468.85" y2="617.42" stroke="#000" stroke-width="3.2"/>
<line x1="1465.55" y1="508.01" x2="1468.85" y2="508.01" stroke="#000" stroke-width="3.2"/>
<text x="1457.55" y="900.5" font-size="26.2" text-anchor="end">0</text>
<text x="1457.55" y="790.8" font-size="26.2" text-anchor="end">5</text>
<text x="1457.55" y="680.72" font-size="26.2" text-anchor="end">10</text>
<text x="1457.55" y="571.31" font-size="26.2" text-anchor="end">15</text>
<line x1="1951.85" y1="891.9" x2="1958.85" y2="891.9" stroke="#D535FB" stroke-width="3.2"/>
<line x1="1951.85" y1="797.21" x2="1958.85" y2="797.21" stroke="#D535FB" stroke-width="3.2"/>
<line x1="1951.85" y1="703.14" x2="1958.85" y2="703.14" stroke="#D535FB" stroke-width="3.2"/>
<line x1="1951.85" y1="609.41" x2="1958.85" y2="609.41" stroke="#D535FB" stroke-width="3.2"/>
<line x1="1951.85" y1="515.35" x2="1958.85" y2="515.35" stroke="#D535FB" stroke-width="3.2"/>
<line x1="1955.35" y1="844.41" x2="1958.85" y2="844.41" stroke="#D535FB" stroke-width="3.2"/>
<line x1="1955.35" y1="750.17" x2="1958.85" y2="750.17" stroke="#D535FB" stroke-width="3.2"/>
<line x1="1955.35" y1="656.28" x2="1958.85" y2="656.28" stroke="#D535FB" stroke-width="3.2"/>
<line x1="1955.35" y1="562.38" x2="1958.85" y2="562.38" stroke="#D535FB" stroke-width="3.2"/>
<text x="1968.85" y="900.1" font-size="26.2" fill="#D535FB">60</text>
<text x="1968.85" y="805.41" font-size="26.2" fill="#D535FB">70</text>
<text x="1968.85" y="711.34" font-size="26.2" fill="#D535FB">80</text>
<text x="1968.85" y="617.61" font-size="26.2" fill="#D535FB">90</text>
<text x="1968.85" y="523.55" font-size="26.2" fill="#D535FB">100</text>
<line x1="1531.16" y1="893.3" x2="1531.16" y2="899.8" stroke="#000" stroke-width="3.2"/>
<line x1="1653.61" y1="893.3" x2="1653.61" y2="899.8" stroke="#000" stroke-width="3.2"/>
<line x1="1776.4" y1="893.3" x2="1776.4" y2="899.8" stroke="#000" stroke-width="3.2"/>
<line x1="1898.85" y1="893.3" x2="1898.85" y2="899.8" stroke="#000" stroke-width="3.2"/>
<text x="1531.16" y="925.6" font-size="26.2" text-anchor="middle">5</text>
<text x="1653.61" y="925.6" font-size="26.2" text-anchor="middle">50</text>
<text x="1776.4" y="925.6" font-size="26.2" text-anchor="middle">100</text>
<text x="1898.85" y="925.6" font-size="26.2" text-anchor="middle">150</text>
<text x="1755.38" y="960.8" font-size="25" text-anchor="middle">H<tspan font-size="16" dy="6">2</tspan><tspan dy="-6">O (mL)</tspan></text>
<text x="1403.5" y="817.5" font-size="25" transform="rotate(-90 1403.5 817.5)">Productivity (µmol m<tspan font-size="15.5" dy="-9">−2</tspan><tspan dy="9">)</tspan></text>
<text x="2041" y="821.5" font-size="25" fill="#D535FB" transform="rotate(-90 2041 821.5)">Selectivity of HCHO (%)</text>
<text x="1393.36" y="518.02" font-size="23.5" font-weight="bold">f</text>
<line x1="1539.94" y1="685.94" x2="1645.83" y2="583.26" stroke="#D535FB" stroke-width="4.5"/>
<line x1="1664.09" y1="570.42" x2="1766.25" y2="520.32" stroke="#D535FB" stroke-width="4.5"/>
<line x1="1787.7" y1="515.35" x2="1887.55" y2="515.35" stroke="#D535FB" stroke-width="4.5"/>
<circle cx="1531.83" cy="693.8" r="8.3" fill="url(#sph)"/>
<circle cx="1653.95" cy="575.39" r="8.3" fill="url(#sph)"/>
<circle cx="1776.4" cy="515.35" r="8.3" fill="url(#sph)"/>
<circle cx="1898.85" cy="515.35" r="8.3" fill="url(#sph)"/>
<line x1="1728.02" y1="541.03" x2="1834.13" y2="541.03" stroke="#CC19FF" stroke-width="4.5"/>
<path d="M1843.13 541.03L1826.13 532.53L1832.43 541.03L1826.13 549.53Z" fill="#CC19FF"/>
<line x1="1747.37" y1="728.16" x2="1675.29" y2="728.16" stroke="#000" stroke-width="4.5"/>
<path d="M1666.29 728.16L1683.29 719.66L1676.99 728.16L1683.29 736.66Z" fill="#000"/>
<rect x="1481.61" y="522.85" width="45.05" height="22.02" fill="#0369AA" stroke="#0000FF" stroke-width="3" stroke-linejoin="bevel"/>
<text x="1532.83" y="540.37" font-size="26">HCHO</text>
<rect x="1481.61" y="555.21" width="45.05" height="21.68" fill="url(#hatch)" stroke="#FF0000" stroke-width="3" stroke-linejoin="bevel"/>
<text x="1532.83" y="572.05" font-size="26">CO<tspan font-size="17" dy="8.5">2</tspan><tspan dy="-8.5"></tspan></text>
<text x="1481.11" y="612.08" font-size="25">W<tspan dx="1.6">O</tspan><tspan font-size="16" dy="6">3</tspan><tspan dy="-6">{001}</tspan></text>
<text x="1481.11" y="642.1" font-size="25">25 <tspan font-size="16" dy="-7">o</tspan><tspan dy="7">C</tspan></text>
<path d="M121.94 1394.1V1282.03H146.44V1394.1" fill="#0369AA" stroke="#0000FF" stroke-width="3" stroke-linejoin="bevel"/>
<path d="M134.34 1269.86V1294.88M130.34 1270.91H138.34M130.34 1293.83H138.34" fill="none" stroke="#000" stroke-width="2.1"/>
<path d="M244.4 1394.1V1179.63H268.9V1394.1" fill="#0369AA" stroke="#0000FF" stroke-width="3" stroke-linejoin="bevel"/>
<path d="M256.8 1157.12V1202.15M252.8 1158.17H260.8M252.8 1201.1H260.8" fill="none" stroke="#000" stroke-width="2.1"/>
<path d="M366.85 1394.1V1089.57H391.35V1394.1" fill="#0369AA" stroke="#0000FF" stroke-width="3" stroke-linejoin="bevel"/>
<path d="M379.25 1058.05V1121.43M375.25 1059.1H383.25M375.25 1120.38H383.25" fill="none" stroke="#000" stroke-width="2.1"/>
<path d="M489.63 1394.1V1073.56H514.13V1394.1" fill="#0369AA" stroke="#0000FF" stroke-width="3" stroke-linejoin="bevel"/>
<path d="M502.03 1040.37V1107.75M498.03 1041.42H506.03M498.03 1106.7H506.03" fill="none" stroke="#000" stroke-width="2.1"/>
<rect x="146.44" y="1379.1" width="25.2" height="15" fill="#fff"/>
<path d="M146.44 1394.1V1379.1H171.64V1394.1" fill="url(#hatch)" stroke="#FF0000" stroke-width="3" stroke-linejoin="bevel"/>
<path d="M159.04 1374.26V1383.27M155.04 1375.31H163.04M155.04 1382.22H163.04" fill="none" stroke="#000" stroke-width="2.1"/>
<rect x="268.9" y="1384.1" width="25.2" height="10" fill="#fff"/>
<path d="M268.9 1394.1V1384.1H294.1V1394.1" fill="url(#hatch)" stroke="#FF0000" stroke-width="3" stroke-linejoin="bevel"/>
<path d="M281.5 1379.93V1388.94M277.5 1380.98H285.5M277.5 1387.89H285.5" fill="none" stroke="#000" stroke-width="2.1"/>
<line x1="574.75" y1="998.3" x2="574.75" y2="1396" stroke="#D535FB" stroke-width="3.3"/>
<path d="M573.1 998.3H85.4V1394.1" fill="none" stroke="#000" stroke-width="3.3"/>
<line x1="83.75" y1="1394.1" x2="573.1" y2="1394.1" stroke="#000" stroke-width="3.5"/>
<line x1="77.85" y1="1394.1" x2="84.25" y2="1394.1" stroke="#000" stroke-width="3.2"/>
<line x1="77.85" y1="1292.54" x2="84.25" y2="1292.54" stroke="#000" stroke-width="3.2"/>
<line x1="77.85" y1="1191.47" x2="84.25" y2="1191.47" stroke="#000" stroke-width="3.2"/>
<line x1="77.85" y1="1090.07" x2="84.25" y2="1090.07" stroke="#000" stroke-width="3.2"/>
<line x1="80.95" y1="1342.91" x2="84.25" y2="1342.91" stroke="#000" stroke-width="3.2"/>
<line x1="80.95" y1="1242.01" x2="84.25" y2="1242.01" stroke="#000" stroke-width="3.2"/>
<line x1="80.95" y1="1140.77" x2="84.25" y2="1140.77" stroke="#000" stroke-width="3.2"/>
<line x1="80.95" y1="1039.54" x2="84.25" y2="1039.54" stroke="#000" stroke-width="3.2"/>
<text x="71.95" y="1402.7" font-size="26.2" text-anchor="end">0</text>
<text x="71.95" y="1301.14" font-size="26.2" text-anchor="end">10</text>
<text x="71.95" y="1200.07" font-size="26.2" text-anchor="end">20</text>
<text x="71.95" y="1098.67" font-size="26.2" text-anchor="end">30</text>
<line x1="566.6" y1="1394.1" x2="573.6" y2="1394.1" stroke="#D535FB" stroke-width="3.2"/>
<line x1="566.6" y1="1299.21" x2="573.6" y2="1299.21" stroke="#D535FB" stroke-width="3.2"/>
<line x1="566.6" y1="1205.15" x2="573.6" y2="1205.15" stroke="#D535FB" stroke-width="3.2"/>
<line x1="566.6" y1="1111.42" x2="573.6" y2="1111.42" stroke="#D535FB" stroke-width="3.2"/>
<line x1="566.6" y1="1017.36" x2="573.6" y2="1017.36" stroke="#D535FB" stroke-width="3.2"/>
<line x1="570.1" y1="1346.25" x2="573.6" y2="1346.25" stroke="#D535FB" stroke-width="3.2"/>
<line x1="570.1" y1="1252.18" x2="573.6" y2="1252.18" stroke="#D535FB" stroke-width="3.2"/>
<line x1="570.1" y1="1158.28" x2="573.6" y2="1158.28" stroke="#D535FB" stroke-width="3.2"/>
<line x1="570.1" y1="1064.39" x2="573.6" y2="1064.39" stroke="#D535FB" stroke-width="3.2"/>
<text x="583.6" y="1402.3" font-size="26.2" fill="#D535FB">60</text>
<text x="583.6" y="1307.41" font-size="26.2" fill="#D535FB">70</text>
<text x="583.6" y="1213.35" font-size="26.2" fill="#D535FB">80</text>
<text x="583.6" y="1119.62" font-size="26.2" fill="#D535FB">90</text>
<text x="583.6" y="1025.56" font-size="26.2" fill="#D535FB">100</text>
<line x1="146.14" y1="1395.5" x2="146.14" y2="1402" stroke="#000" stroke-width="3.2"/>
<line x1="268.6" y1="1395.5" x2="268.6" y2="1402" stroke="#000" stroke-width="3.2"/>
<line x1="391.05" y1="1395.5" x2="391.05" y2="1402" stroke="#000" stroke-width="3.2"/>
<line x1="513.83" y1="1395.5" x2="513.83" y2="1402" stroke="#000" stroke-width="3.2"/>
<text x="146.14" y="1427.8" font-size="26.2" text-anchor="middle">5</text>
<text x="268.6" y="1427.8" font-size="26.2" text-anchor="middle">50</text>
<text x="391.05" y="1427.8" font-size="26.2" text-anchor="middle">100</text>
<text x="513.83" y="1427.8" font-size="26.2" text-anchor="middle">150</text>
<text x="335.33" y="1465" font-size="25" text-anchor="middle">H<tspan font-size="16" dy="6">2</tspan><tspan dy="-6">O (mL)</tspan></text>
<text x="22.6" y="1320.7" font-size="25" transform="rotate(-90 22.6 1320.7)">Productivity (µmol m<tspan font-size="15.5" dy="-9">−2</tspan><tspan dy="9">)</tspan></text>
<text x="648.5" y="1327.5" font-size="25" fill="#D535FB" transform="rotate(-90 648.5 1327.5)">Selectivity of HCHO (%)</text>
<text x="14.01" y="1018.19" font-size="23.5" font-weight="bold">g</text>
<line x1="156.57" y1="1122.74" x2="258.83" y2="1063.08" stroke="#D535FB" stroke-width="4.5"/>
<line x1="279.34" y1="1053.87" x2="380.31" y2="1020.87" stroke="#D535FB" stroke-width="4.5"/>
<line x1="402.35" y1="1017.36" x2="502.53" y2="1017.36" stroke="#D535FB" stroke-width="4.5"/>
<circle cx="146.81" cy="1128.43" r="8.3" fill="url(#sph)"/>
<circle cx="268.6" cy="1057.38" r="8.3" fill="url(#sph)"/>
<circle cx="391.05" cy="1017.36" r="8.3" fill="url(#sph)"/>
<circle cx="513.83" cy="1017.36" r="8.3" fill="url(#sph)"/>
<line x1="360.35" y1="1036.37" x2="458.79" y2="1036.37" stroke="#CC19FF" stroke-width="4.5"/>
<path d="M467.79 1036.37L450.79 1027.87L457.09 1036.37L450.79 1044.87Z" fill="#CC19FF"/>
<line x1="360.35" y1="1217.49" x2="292.61" y2="1217.49" stroke="#000" stroke-width="4.5"/>
<path d="M283.61 1217.49L300.61 1208.99L294.31 1217.49L300.61 1225.99Z" fill="#000"/>
<rect x="96.59" y="1024.53" width="45.05" height="22.02" fill="#0369AA" stroke="#0000FF" stroke-width="3" stroke-linejoin="bevel"/>
<text x="147.81" y="1042.37" font-size="26">HCHO</text>
<rect x="96.59" y="1056.55" width="45.05" height="22.02" fill="url(#hatch)" stroke="#FF0000" stroke-width="3" stroke-linejoin="bevel"/>
<text x="147.81" y="1074.06" font-size="26">CO<tspan font-size="17" dy="8.5">2</tspan><tspan dy="-8.5"></tspan></text>
<text x="98.43" y="1166.79" font-size="25">W<tspan dx="1.6">O</tspan><tspan font-size="16" dy="6">3</tspan><tspan dy="-6">{001}</tspan></text>
<text x="98.43" y="1196.48" font-size="25">50 <tspan font-size="16" dy="-7">o</tspan><tspan dy="7">C</tspan></text>
<path d="M804.27 1394.1V1242.34H828.77V1394.1" fill="#0369AA" stroke="#0000FF" stroke-width="3" stroke-linejoin="bevel"/>
<path d="M816.67 1233.84V1252.18M812.67 1234.89H820.67M812.67 1251.13H820.67" fill="none" stroke="#000" stroke-width="2.1"/>
<path d="M926.73 1394.1V1197.98H951.23V1394.1" fill="#0369AA" stroke="#0000FF" stroke-width="3" stroke-linejoin="bevel"/>
<path d="M939.13 1187.14V1208.82M935.13 1188.19H943.13M935.13 1207.77H943.13" fill="none" stroke="#000" stroke-width="2.1"/>
<path d="M1049.18 1394.1V1102.91H1073.68V1394.1" fill="#0369AA" stroke="#0000FF" stroke-width="3" stroke-linejoin="bevel"/>
<path d="M1061.58 1087.4V1119.43M1057.58 1088.45H1065.58M1057.58 1118.38H1065.58" fill="none" stroke="#000" stroke-width="2.1"/>
<path d="M1171.97 1394.1V1059.55H1196.47V1394.1" fill="#0369AA" stroke="#0000FF" stroke-width="3" stroke-linejoin="bevel"/>
<path d="M1184.37 1040.37V1079.73M1180.37 1041.42H1188.37M1180.37 1078.68H1188.37" fill="none" stroke="#000" stroke-width="2.1"/>
<rect x="828.77" y="1357.09" width="25.2" height="37.01" fill="#fff"/>
<path d="M828.77 1394.1V1357.09H853.97V1394.1" fill="url(#hatch)" stroke="#FF0000" stroke-width="3" stroke-linejoin="bevel"/>
<path d="M841.37 1348.91V1365.59M837.37 1349.96H845.37M837.37 1364.54H845.37" fill="none" stroke="#000" stroke-width="2.1"/>
<rect x="951.23" y="1377.43" width="25.2" height="16.67" fill="#fff"/>
<path d="M951.23 1394.1V1377.43H976.43V1394.1" fill="url(#hatch)" stroke="#FF0000" stroke-width="3" stroke-linejoin="bevel"/>
<path d="M963.83 1372.6V1382.27M959.83 1373.65H967.83M959.83 1381.22H967.83" fill="none" stroke="#000" stroke-width="2.1"/>
<line x1="1257.6" y1="998.3" x2="1257.6" y2="1396" stroke="#D535FB" stroke-width="3.3"/>
<path d="M1255.95 998.3H767.5V1394.1" fill="none" stroke="#000" stroke-width="3.3"/>
<line x1="765.85" y1="1394.1" x2="1255.95" y2="1394.1" stroke="#000" stroke-width="3.5"/>
<line x1="759.95" y1="1394.1" x2="766.35" y2="1394.1" stroke="#000" stroke-width="3.2"/>
<line x1="759.95" y1="1302.55" x2="766.35" y2="1302.55" stroke="#000" stroke-width="3.2"/>
<line x1="759.95" y1="1211.49" x2="766.35" y2="1211.49" stroke="#000" stroke-width="3.2"/>
<line x1="759.95" y1="1120.09" x2="766.35" y2="1120.09" stroke="#000" stroke-width="3.2"/>
<line x1="759.95" y1="1028.36" x2="766.35" y2="1028.36" stroke="#000" stroke-width="3.2"/>
<line x1="763.05" y1="1347.91" x2="766.35" y2="1347.91" stroke="#000" stroke-width="3.2"/>
<line x1="763.05" y1="1257.02" x2="766.35" y2="1257.02" stroke="#000" stroke-width="3.2"/>
<line x1="763.05" y1="1165.79" x2="766.35" y2="1165.79" stroke="#000" stroke-width="3.2"/>
<line x1="763.05" y1="1074.23" x2="766.35" y2="1074.23" stroke="#000" stroke-width="3.2"/>
<text x="755.05" y="1402.7" font-size="26.2" text-anchor="end">0</text>
<text x="755.05" y="1311.15" font-size="26.2" text-anchor="end">3</text>
<text x="755.05" y="1220.09" font-size="26.2" text-anchor="end">6</text>
<text x="755.05" y="1128.69" font-size="26.2" text-anchor="end">9</text>
<text x="755.05" y="1036.96" font-size="26.2" text-anchor="end">12</text>
<line x1="1249.45" y1="1394.1" x2="1256.45" y2="1394.1" stroke="#D535FB" stroke-width="3.2"/>
<line x1="1249.45" y1="1299.21" x2="1256.45" y2="1299.21" stroke="#D535FB" stroke-width="3.2"/>
<line x1="1249.45" y1="1205.15" x2="1256.45" y2="1205.15" stroke="#D535FB" stroke-width="3.2"/>
<line x1="1249.45" y1="1111.42" x2="1256.45" y2="1111.42" stroke="#D535FB" stroke-width="3.2"/>
<line x1="1249.45" y1="1017.36" x2="1256.45" y2="1017.36" stroke="#D535FB" stroke-width="3.2"/>
<line x1="1252.95" y1="1346.25" x2="1256.45" y2="1346.25" stroke="#D535FB" stroke-width="3.2"/>
<line x1="1252.95" y1="1252.18" x2="1256.45" y2="1252.18" stroke="#D535FB" stroke-width="3.2"/>
<line x1="1252.95" y1="1158.28" x2="1256.45" y2="1158.28" stroke="#D535FB" stroke-width="3.2"/>
<line x1="1252.95" y1="1064.39" x2="1256.45" y2="1064.39" stroke="#D535FB" stroke-width="3.2"/>
<text x="1266.45" y="1402.3" font-size="26.2" fill="#D535FB">60</text>
<text x="1266.45" y="1307.41" font-size="26.2" fill="#D535FB">70</text>
<text x="1266.45" y="1213.35" font-size="26.2" fill="#D535FB">80</text>
<text x="1266.45" y="1119.62" font-size="26.2" fill="#D535FB">90</text>
<text x="1266.45" y="1025.56" font-size="26.2" fill="#D535FB">100</text>
<line x1="828.47" y1="1395.5" x2="828.47" y2="1402" stroke="#000" stroke-width="3.2"/>
<line x1="950.93" y1="1395.5" x2="950.93" y2="1402" stroke="#000" stroke-width="3.2"/>
<line x1="1073.38" y1="1395.5" x2="1073.38" y2="1402" stroke="#000" stroke-width="3.2"/>
<line x1="1196.17" y1="1395.5" x2="1196.17" y2="1402" stroke="#000" stroke-width="3.2"/>
<text x="828.47" y="1427.8" font-size="26.2" text-anchor="middle">5</text>
<text x="950.93" y="1427.8" font-size="26.2" text-anchor="middle">50</text>
<text x="1073.38" y="1427.8" font-size="26.2" text-anchor="middle">100</text>
<text x="1196.17" y="1427.8" font-size="26.2" text-anchor="middle">150</text>
<text x="1016.99" y="1464" font-size="25" text-anchor="middle">H<tspan font-size="16" dy="6">2</tspan><tspan dy="-6">O (mL)</tspan></text>
<text x="709" y="1321" font-size="25" transform="rotate(-90 709 1321)">Productivity (µmol m<tspan font-size="15.5" dy="-9">−2</tspan><tspan dy="9">)</tspan></text>
<text x="1339" y="1325" font-size="25" fill="#D535FB" transform="rotate(-90 1339 1325)">Selectivity of HCHO (%)</text>
<text x="697.35" y="1023.36" font-size="23.5" font-weight="bold">h</text>
<line x1="836.88" y1="1193.26" x2="942.52" y2="1098.29" stroke="#D535FB" stroke-width="4.5"/>
<line x1="960.62" y1="1084.93" x2="1063.69" y2="1023.16" stroke="#D535FB" stroke-width="4.5"/>
<line x1="1084.68" y1="1017.36" x2="1184.87" y2="1017.36" stroke="#D535FB" stroke-width="4.5"/>
<circle cx="828.47" cy="1200.81" r="8.3" fill="url(#sph)"/>
<circle cx="950.93" cy="1090.74" r="8.3" fill="url(#sph)"/>
<circle cx="1073.38" cy="1017.36" r="8.3" fill="url(#sph)"/>
<circle cx="1196.17" cy="1017.36" r="8.3" fill="url(#sph)"/>
<line x1="1007.65" y1="1066.39" x2="1121.1" y2="1066.39" stroke="#CC19FF" stroke-width="4.5"/>
<path d="M1130.1 1066.39L1113.1 1057.89L1119.4 1066.39L1113.1 1074.89Z" fill="#CC19FF"/>
<line x1="1042.68" y1="1227.83" x2="975.28" y2="1227.83" stroke="#000" stroke-width="4.5"/>
<path d="M966.28 1227.83L983.28 1219.33L976.98 1227.83L983.28 1236.33Z" fill="#000"/>
<rect x="783.26" y="1019.52" width="45.05" height="22.02" fill="#0369AA" stroke="#0000FF" stroke-width="3" stroke-linejoin="bevel"/>
<text x="834.81" y="1037.37" font-size="26">HCHO</text>
<rect x="783.26" y="1051.54" width="45.05" height="21.68" fill="url(#hatch)" stroke="#FF0000" stroke-width="3" stroke-linejoin="bevel"/>
<text x="834.81" y="1069.06" font-size="26">CO<tspan font-size="17" dy="8.5">2</tspan><tspan dy="-8.5"></tspan></text>
<text x="785.77" y="1108.08" font-size="25">W<tspan dx="1.6">O</tspan><tspan font-size="16" dy="6">3</tspan><tspan dy="-6">{1<tspan dx="1.3">1</tspan>0}</tspan></text>
<text x="785.77" y="1138.1" font-size="25">25 <tspan font-size="16" dy="-7">o</tspan><tspan dy="7">C</tspan></text>
<path d="M1481.85 1394.1V1363.29H1506.45V1394.1" fill="#F4A666" stroke="#FB8008" stroke-width="3.4" stroke-linejoin="bevel"/>
<path d="M1506.3 1394.1V1387.97H1530.9V1394.1" fill="#FF80C0" stroke="#FF40AA" stroke-width="3.4" stroke-linejoin="bevel"/>
<path d="M1530.75 1394.1V1331.6H1555.35V1394.1" fill="#0369AA" stroke="#2038FF" stroke-width="3.4" stroke-linejoin="bevel"/>
<rect x="1555.1" y="1388.54" width="24.8" height="5.56" fill="#fff"/>
<path d="M1555.1 1394.1V1388.54H1579.9V1394.1" fill="url(#hatch)" stroke="#FF0000" stroke-width="3.2" stroke-linejoin="bevel"/>
<path d="M1494.15 1355.75V1369.43M1490.25 1356.8H1498.05M1490.25 1368.38H1498.05" fill="none" stroke="#000" stroke-width="2.1"/>
<path d="M1518.6 1381.77V1393.1M1514.7 1382.82H1522.5M1514.7 1392.05H1522.5" fill="none" stroke="#000" stroke-width="2.1"/>
<path d="M1543.05 1324.06V1339.07M1539.15 1325.11H1546.95M1539.15 1338.02H1546.95" fill="none" stroke="#000" stroke-width="2.1"/>
<path d="M1603.97 1394.1V1346.61H1628.57V1394.1" fill="#F4A666" stroke="#FB8008" stroke-width="3.4" stroke-linejoin="bevel"/>
<path d="M1628.42 1394.1V1374.96H1653.02V1394.1" fill="#FF80C0" stroke="#FF40AA" stroke-width="3.4" stroke-linejoin="bevel"/>
<path d="M1652.87 1394.1V1145.47H1677.47V1394.1" fill="#0369AA" stroke="#2038FF" stroke-width="3.4" stroke-linejoin="bevel"/>
<rect x="1677.22" y="1390.21" width="24.8" height="3.89" fill="#fff"/>
<path d="M1677.22 1394.1V1390.21H1702.02V1394.1" fill="url(#hatch)" stroke="#FF0000" stroke-width="3.2" stroke-linejoin="bevel"/>
<path d="M1616.27 1337.74V1354.42M1612.37 1338.79H1620.17M1612.37 1353.37H1620.17" fill="none" stroke="#000" stroke-width="2.1"/>
<path d="M1640.72 1367.43V1382.44M1636.82 1368.48H1644.62M1636.82 1381.39H1644.62" fill="none" stroke="#000" stroke-width="2.1"/>
<path d="M1665.17 1119.26V1171.63M1661.27 1120.31H1669.07M1661.27 1170.58H1669.07" fill="none" stroke="#000" stroke-width="2.1"/>
<path d="M1726.42 1394.1V1329.6H1751.02V1394.1" fill="#F4A666" stroke="#FB8008" stroke-width="3.4" stroke-linejoin="bevel"/>
<path d="M1750.87 1394.1V1368.96H1775.47V1394.1" fill="#FF80C0" stroke="#FF40AA" stroke-width="3.4" stroke-linejoin="bevel"/>
<path d="M1775.32 1394.1V1102.11H1799.92V1394.1" fill="#0369AA" stroke="#2038FF" stroke-width="3.4" stroke-linejoin="bevel"/>
<path d="M1738.72 1320.06V1337.74M1734.82 1321.11H1742.62M1734.82 1336.69H1742.62" fill="none" stroke="#000" stroke-width="2.1"/>
<path d="M1763.17 1359.42V1376.77M1759.27 1360.47H1767.07M1759.27 1375.72H1767.07" fill="none" stroke="#000" stroke-width="2.1"/>
<path d="M1787.62 1071.56V1131.6M1783.72 1072.61H1791.52M1783.72 1130.55H1791.52" fill="none" stroke="#000" stroke-width="2.1"/>
<path d="M1848.54 1394.1V1324.93H1873.14V1394.1" fill="#F4A666" stroke="#FB8008" stroke-width="3.4" stroke-linejoin="bevel"/>
<path d="M1872.99 1394.1V1365.62H1897.59V1394.1" fill="#FF80C0" stroke="#FF40AA" stroke-width="3.4" stroke-linejoin="bevel"/>
<path d="M1897.44 1394.1V1063.75H1922.04V1394.1" fill="#0369AA" stroke="#2038FF" stroke-width="3.4" stroke-linejoin="bevel"/>
<path d="M1860.84 1315.06V1333.4M1856.94 1316.11H1864.74M1856.94 1332.35H1864.74" fill="none" stroke="#000" stroke-width="2.1"/>
<path d="M1885.29 1356.09V1373.43M1881.39 1357.14H1889.19M1881.39 1372.38H1889.19" fill="none" stroke="#000" stroke-width="2.1"/>
<path d="M1909.74 1031.53V1094.91M1905.84 1032.58H1913.64M1905.84 1093.86H1913.64" fill="none" stroke="#000" stroke-width="2.1"/>
<line x1="1959.3" y1="999.8" x2="1959.3" y2="1396" stroke="#D535FB" stroke-width="3.3"/>
<path d="M1957.65 999.8H1469.7V1394.1" fill="none" stroke="#000" stroke-width="3.3"/>
<line x1="1468.05" y1="1394.1" x2="1957.65" y2="1394.1" stroke="#000" stroke-width="3.5"/>
<line x1="1462.15" y1="1394.1" x2="1468.55" y2="1394.1" stroke="#000" stroke-width="3.2"/>
<line x1="1462.15" y1="1276.53" x2="1468.55" y2="1276.53" stroke="#000" stroke-width="3.2"/>
<line x1="1462.15" y1="1158.45" x2="1468.55" y2="1158.45" stroke="#000" stroke-width="3.2"/>
<line x1="1462.15" y1="1040.71" x2="1468.55" y2="1040.71" stroke="#000" stroke-width="3.2"/>
<line x1="1465.25" y1="1334.9" x2="1468.55" y2="1334.9" stroke="#000" stroke-width="3.2"/>
<line x1="1465.25" y1="1217.49" x2="1468.55" y2="1217.49" stroke="#000" stroke-width="3.2"/>
<line x1="1465.25" y1="1099.58" x2="1468.55" y2="1099.58" stroke="#000" stroke-width="3.2"/>
<text x="1457.25" y="1402.7" font-size="26.2" text-anchor="end">0</text>
<text x="1457.25" y="1285.13" font-size="26.2" text-anchor="end">20</text>
<text x="1457.25" y="1167.05" font-size="26.2" text-anchor="end">40</text>
<text x="1457.25" y="1049.31" font-size="26.2" text-anchor="end">60</text>
<line x1="1951.15" y1="1394.1" x2="1958.15" y2="1394.1" stroke="#D535FB" stroke-width="3.2"/>
<line x1="1951.15" y1="1295.21" x2="1958.15" y2="1295.21" stroke="#D535FB" stroke-width="3.2"/>
<line x1="1951.15" y1="1196.48" x2="1958.15" y2="1196.48" stroke="#D535FB" stroke-width="3.2"/>
<line x1="1951.15" y1="1098.41" x2="1958.15" y2="1098.41" stroke="#D535FB" stroke-width="3.2"/>
<line x1="1951.15" y1="999.68" x2="1958.15" y2="999.68" stroke="#D535FB" stroke-width="3.2"/>
<line x1="1954.65" y1="1344.24" x2="1958.15" y2="1344.24" stroke="#D535FB" stroke-width="3.2"/>
<line x1="1954.65" y1="1245.84" x2="1958.15" y2="1245.84" stroke="#D535FB" stroke-width="3.2"/>
<line x1="1954.65" y1="1147.44" x2="1958.15" y2="1147.44" stroke="#D535FB" stroke-width="3.2"/>
<line x1="1954.65" y1="1049.04" x2="1958.15" y2="1049.04" stroke="#D535FB" stroke-width="3.2"/>
<text x="1968.15" y="1402.3" font-size="26.2" fill="#D535FB">0</text>
<text x="1968.15" y="1303.41" font-size="26.2" fill="#D535FB">20</text>
<text x="1968.15" y="1204.68" font-size="26.2" fill="#D535FB">40</text>
<text x="1968.15" y="1106.61" font-size="26.2" fill="#D535FB">60</text>
<text x="1968.15" y="1007.88" font-size="26.2" fill="#D535FB">80</text>
<line x1="1530.49" y1="1395.5" x2="1530.49" y2="1402" stroke="#000" stroke-width="3.2"/>
<line x1="1652.95" y1="1395.5" x2="1652.95" y2="1402" stroke="#000" stroke-width="3.2"/>
<line x1="1775.4" y1="1395.5" x2="1775.4" y2="1402" stroke="#000" stroke-width="3.2"/>
<line x1="1897.52" y1="1395.5" x2="1897.52" y2="1402" stroke="#000" stroke-width="3.2"/>
<text x="1530.49" y="1427.8" font-size="26.2" text-anchor="middle">5</text>
<text x="1652.95" y="1427.8" font-size="26.2" text-anchor="middle">50</text>
<text x="1775.4" y="1427.8" font-size="26.2" text-anchor="middle">100</text>
<text x="1897.52" y="1427.8" font-size="26.2" text-anchor="middle">150</text>
<text x="1756.38" y="1464" font-size="25" text-anchor="middle">H<tspan font-size="16" dy="6">2</tspan><tspan dy="-6">O (mL)</tspan></text>
<text x="1403" y="1321" font-size="25" transform="rotate(-90 1403 1321)">Productivity (µmol m<tspan font-size="15.5" dy="-9">−2</tspan><tspan dy="9">)</tspan></text>
<text x="2041" y="1325" font-size="25" fill="#D535FB" transform="rotate(-90 2041 1325)">Selectivity of HCHO (%)</text>
<text x="1395.36" y="1025.36" font-size="23.5" font-weight="bold">i</text>
<line x1="1539.4" y1="1101.12" x2="1644.04" y2="1019.31" stroke="#D535FB" stroke-width="4.5"/>
<line x1="1664.24" y1="1012.81" x2="1764.11" y2="1016.89" stroke="#D535FB" stroke-width="4.5"/>
<line x1="1786.7" y1="1017.11" x2="1886.22" y2="1014.93" stroke="#D535FB" stroke-width="4.5"/>
<circle cx="1530.49" cy="1108.08" r="8.3" fill="url(#sph)"/>
<circle cx="1652.95" cy="1012.35" r="8.3" fill="url(#sph)"/>
<circle cx="1775.4" cy="1017.36" r="8.3" fill="url(#sph)"/>
<circle cx="1897.52" cy="1014.69" r="8.3" fill="url(#sph)"/>
<line x1="1582.88" y1="1077.4" x2="1691.33" y2="1077.4" stroke="#CC19FF" stroke-width="4.5"/>
<path d="M1700.33 1077.4L1683.33 1068.9L1689.63 1077.4L1683.33 1085.9Z" fill="#CC19FF"/>
<line x1="1650.28" y1="1296.55" x2="1582.87" y2="1296.55" stroke="#000" stroke-width="4.5"/>
<path d="M1573.87 1296.55L1590.87 1288.05L1584.57 1296.55L1590.87 1305.05Z" fill="#000"/>
<rect x="1481.61" y="1133.43" width="45.71" height="22.18" fill="#F4A666" stroke="#FB8008" stroke-width="3" stroke-linejoin="bevel"/>
<text x="1533.16" y="1150.78" font-size="25.7">CH<tspan font-size="15.5" dy="10">3</tspan><tspan dy="-10">OOH</tspan></text>
<rect x="1481.61" y="1172.79" width="45.71" height="22.18" fill="#FF80C0" stroke="#FF40AA" stroke-width="3" stroke-linejoin="bevel"/>
<text x="1533.16" y="1189.81" font-size="25.7">CH<tspan font-size="15.5" dy="10">3</tspan><tspan dy="-10">OH</tspan></text>
<rect x="1481.61" y="1211.99" width="45.71" height="23.35" fill="#0369AA" stroke="#2038FF" stroke-width="3" stroke-linejoin="bevel"/>
<text x="1537.17" y="1230.17" font-size="25.7">HCHO</text>
<rect x="1481.61" y="1252.35" width="45.71" height="23.68" fill="url(#hatch)" stroke="#FF0000" stroke-width="3" stroke-linejoin="bevel"/>
<text x="1537.17" y="1270.86" font-size="25.7">CO<tspan font-size="17" dy="8.5">2</tspan><tspan dy="-8.5"></tspan></text>
<text x="1487.79" y="1035.7" font-size="25">W<tspan dx="1.6">O</tspan><tspan font-size="16" dy="6">3</tspan><tspan dy="-6">{1<tspan dx="1.3">1</tspan>0}</tspan></text>
<text x="1487.79" y="1065.05" font-size="25">50 <tspan font-size="16" dy="-7">o</tspan><tspan dy="7">C</tspan></text>
</svg>
</body></html>
